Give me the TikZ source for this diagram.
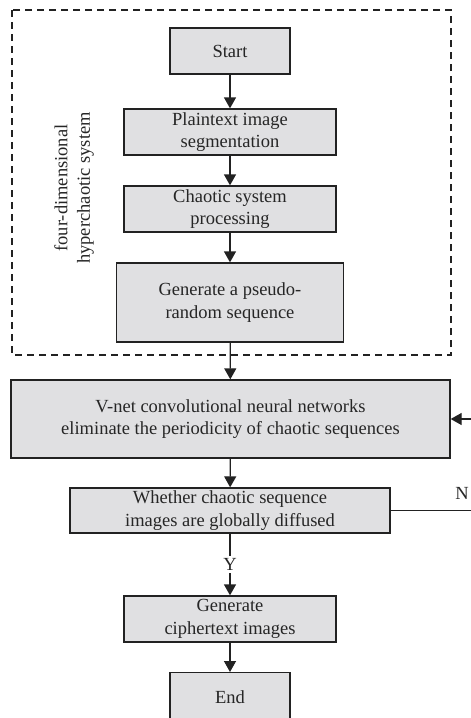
\documentclass[tikz,border=0pt]{standalone}
\usepackage{fontspec}
\setmainfont{Liberation Serif}
\usetikzlibrary{arrows.meta}
\definecolor{boxfill}{HTML}{E0E0E2}
\definecolor{linec}{HTML}{222222}
\begin{document}
\begin{tikzpicture}[x=1pt,y=-1pt,
  stepbox/.style={draw=linec, line width=1.3pt, fill=boxfill, inner sep=0pt, align=center,
    font=\fontsize{18.5}{22.5}\selectfont, text=black!85},
  conn/.style={draw=linec, line width=1.3pt, -{Triangle[length=11pt,width=12pt]}},
  lbl/.style={font=\fontsize{18.5}{22.5}\selectfont, text=black!85, inner sep=1pt}]
\useasboundingbox (0,0) rectangle (471,718);
\clip (0,0) rectangle (471,718);
\draw[linec, line width=1.1pt, dash pattern=on 7pt off 5pt] (12,10) rectangle (451,355);
\node[stepbox, minimum width=120pt, minimum height=46pt] (start) at (230,51) {Start};
\node[stepbox, minimum width=212pt, minimum height=46pt] (plain) at (230,132) {Plaintext image\\segmentation};
\node[stepbox, minimum width=212pt, minimum height=46pt] (chaos) at (230,209) {Chaotic system\\processing};
\node[stepbox, minimum width=227pt, minimum height=79pt] (pseudo) at (230,302.5) {Generate a pseudo-\\random sequence};
\node[stepbox, minimum width=439pt, minimum height=78pt] (vnet) at (230.5,419) {V-net convolutional neural networks\\eliminate the periodicity of chaotic sequences};
\node[stepbox, minimum width=320pt, minimum height=45pt] (whether) at (230,510.5) {Whether chaotic sequence\\images are globally diffused};
\node[stepbox, minimum width=212pt, minimum height=46pt] (cipher) at (230,619) {Generate\\ciphertext images};
\node[stepbox, minimum width=120pt, minimum height=50pt, anchor=north] (finish) at (230,672) {\raisebox{2pt}{End}};
\node[lbl, rotate=90, align=center] (sys) at (74,188) {four-dimensional\\hyperchaotic system};
\coordinate (fb) at (485,510.5);
\draw[conn] (start) -- (plain);
\draw[conn] (plain) -- (chaos);
\draw[conn] (chaos) -- (pseudo);
\draw[conn] (pseudo) -- (vnet);
\draw[conn] (vnet) -- (whether);
\draw[conn] (whether) -- node[lbl, fill=white, inner sep=2pt] (yes) {Y} (cipher);
\draw[conn] (cipher) -- (finish);
\draw[conn] (whether.east) -- (fb) |- (vnet.east);
\node[lbl] (no) at (462,493) {N};
\end{tikzpicture}
\end{document}
